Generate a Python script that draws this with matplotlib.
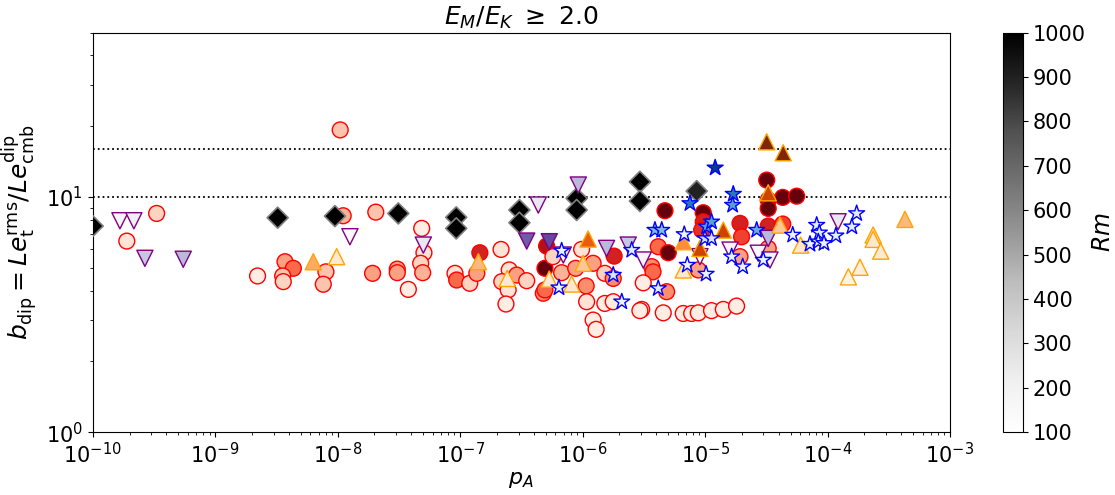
import numpy as np
import matplotlib
matplotlib.use('Agg')
import matplotlib.pyplot as plt
from matplotlib.colors import Normalize

# circles (red edge)
circ_pA = [3.33e-10, 1.90e-10, 1.11e-8, 2.05e-8, 1.05e-8, 3.72e-9, 4.35e-9, 3.56e-9, 3.60e-9, 2.22e-9,
           8.03e-9, 7.64e-9, 1.93e-8, 3.07e-8, 3.07e-8, 3.78e-8, 4.86e-8, 5.07e-8, 4.77e-8, 4.95e-8,
           1.45e-7, 9.09e-8, 9.38e-8, 1.20e-7, 1.37e-7, 2.16e-7, 2.52e-7, 2.19e-7, 2.47e-7, 2.90e-7,
           3.50e-7, 2.37e-7, 4.93e-7, 5.09e-7, 5.73e-7, 4.78e-7, 4.93e-7, 6.75e-7, 8.79e-7, 9.83e-7,
           1.22e-6, 1.07e-6, 1.08e-6, 1.52e-6, 1.22e-6, 1.29e-6, 1.52e-6, 1.81e-6, 1.78e-6, 3.67e-6,
           3.76e-6, 3.13e-6, 4.86e-6, 4.15e-6, 5.01e-6, 4.71e-6, 9.67e-6, 9.67e-6, 9.39e-6, 1.93e-5,
           1.99e-5, 1.93e-5, 8.81e-6, 3.19e-5, 3.28e-5, 3.28e-5, 4.31e-5, 5.60e-5, 3.28e-5, 4.31e-5,
           3.28e-5, 1.78e-6, 3.04e-6, 2.94e-6, 4.56e-6, 6.64e-6, 7.78e-6, 8.81e-6, 1.13e-5, 1.41e-5,
           1.81e-5]
circ_b = [8.52, 6.50, 8.33, 8.63, 19.3, 5.31, 4.98, 4.62, 4.37, 4.62,
          4.81, 4.26, 4.74, 4.94, 4.77, 4.05, 7.36, 5.80, 5.23, 4.77,
          5.80, 4.74, 4.44, 4.30, 4.74, 5.99, 4.90, 4.37, 4.03, 4.66,
          4.41, 3.51, 4.98, 6.19, 5.58, 3.90, 4.03, 4.77, 4.98, 5.99,
          5.23, 4.19, 3.59, 3.53, 3.00, 2.74, 4.74, 5.61, 4.51, 5.06,
          4.81, 4.32, 3.96, 6.15, 5.80, 8.75, 8.58, 7.85, 7.24, 7.73,
          6.78, 5.58, 4.90, 11.81, 9.71, 8.95, 9.97, 10.09, 7.53, 7.68,
          6.05, 3.59, 3.33, 3.29, 3.22, 3.20, 3.20, 3.22, 3.29, 3.33,
          3.44]
circ_Rm = [250, 200, 350, 300, 300, 400, 550, 300, 250, 150,
           300, 300, 400, 400, 400, 150, 150, 200, 250, 350,
           750, 200, 550, 250, 400, 200, 200, 250, 200, 400,
           250, 150, 1000, 850, 250, 450, 550, 350, 400, 200,
           400, 450, 200, 150, 150, 150, 250, 750, 450, 450,
           550, 150, 450, 550, 1000, 1000, 1000, 750, 700, 750,
           650, 400, 400, 1000, 1000, 1000, 1000, 1000, 750, 650,
           400, 150, 150, 150, 150, 150, 150, 150, 150, 150,
           150]

# diamonds
diam_pA = [1.0e-10, 3.24e-9, 9.51e-9, 3.13e-8, 9.3e-8, 9.3e-8, 3.05e-7, 3.05e-7,
           8.95e-7, 8.95e-7, 2.94e-6, 2.94e-6, 8.55e-6]
diam_b = [7.53, 8.17, 8.30, 8.52, 8.20, 7.36, 8.81, 7.78, 9.87, 8.81, 11.61, 9.62, 10.6]
diam_Rm = [1000, 1000, 1000, 1000, 1000, 1000, 1000, 1000, 1000, 1000, 1000, 1000, 900]

# downward triangles
tdn_pA = [1.67e-10, 2.17e-10, 2.67e-10, 5.49e-10, 1.26e-8, 5.01e-8, 4.35e-7, 3.50e-7, 5.35e-7, 9.23e-7,
          1.57e-6, 6.96e-7, 2.36e-6, 3.13e-6, 9.09e-6, 1.60e-5, 2.72e-5, 3.39e-5, 3.28e-5, 1.22e-4]
tdn_b = [7.93, 7.93, 5.49, 5.44, 6.78, 6.25, 9.25, 6.50, 6.46, 11.25,
         6.05, 5.67, 6.25, 5.40, 5.58, 5.95, 5.77, 5.40, 6.67, 7.85]
tdn_Rm = [150, 200, 400, 450, 120, 250, 250, 750, 800, 450,
          450, 150, 400, 150, 100, 150, 150, 150, 450, 250]

# upward triangles
tup_pA = [6.33e-9, 9.82e-9, 1.41e-7, 2.43e-7, 5.35e-7, 8.15e-7, 1.01e-6, 1.11e-6, 6.64e-6, 6.64e-6,
          9.09e-6, 1.41e-5, 4.09e-5, 3.19e-5, 4.35e-5, 3.28e-5, 6.04e-5, 2.36e-4, 2.36e-4, 2.72e-4,
          4.29e-4, 1.84e-4, 1.48e-4]
tup_b = [5.31, 5.58, 5.31, 4.51, 4.48, 4.27, 5.23, 6.63, 4.90, 6.46,
         6.05, 7.24, 7.60, 17.18, 15.43, 10.43, 6.25, 6.90, 6.61, 5.89,
         8.04, 5.03, 4.58]
tup_Rm = [450, 200, 400, 200, 200, 200, 350, 700, 200, 550,
          800, 800, 350, 1000, 1000, 800, 200, 250, 200, 200,
          400, 150, 120]

# stars
star_pA = [6.75e-7, 6.42e-7, 1.78e-6, 2.09e-6, 2.52e-6, 4.15e-6, 3.90e-6, 4.43e-6, 6.77e-6, 7.16e-6,
           1.02e-5, 7.53e-6, 1.21e-5, 1.03e-5, 1.13e-5, 9.99e-6, 1.13e-5, 1.70e-5, 1.68e-5, 2.64e-5,
           1.65e-5, 2.03e-5, 2.99e-5, 5.20e-5, 8.16e-5, 8.57e-5, 7.19e-5, 8.41e-5, 9.36e-5, 1.17e-4,
           1.58e-4, 1.73e-4]
star_b = [5.91, 4.12, 4.66, 3.59, 5.95, 4.09, 7.24, 7.24, 6.94, 5.14,
          4.71, 9.40, 13.32, 7.48, 7.85, 6.67, 6.67, 10.30, 9.25, 7.24,
          5.58, 5.06, 5.40, 6.90, 7.60, 7.05, 6.31, 6.46, 6.36, 6.85,
          7.48, 8.52]
star_Rm = [150, 150, 250, 150, 200, 200, 500, 500, 150, 150,
           150, 750, 950, 600, 600, 300, 250, 750, 600, 550,
           150, 150, 150, 150, 200, 200, 150, 200, 150, 200,
           200, 200]

norm = Normalize(vmin=100, vmax=1000)

fig = plt.figure(figsize=(11.15, 4.95), dpi=100)
ax = fig.add_axes([0.0831, 0.1267, 0.7689, 0.8073])
cax = fig.add_axes([0.8996, 0.1267, 0.0179, 0.8073])

ax.axhline(10, color='k', ls=':', lw=1.3, zorder=1)
ax.axhline(16, color='k', ls=':', lw=1.3, zorder=1)

ax.scatter(circ_pA, circ_b, c=circ_Rm, cmap='Reds', norm=norm, marker='o', s=130,
           edgecolors='red', linewidths=1, zorder=2)
ax.scatter(diam_pA, diam_b, c=diam_Rm, cmap='Greys', norm=norm, marker='D', s=115,
           edgecolors='gray', linewidths=1.2, zorder=3)
ax.scatter(tdn_pA, tdn_b, c=tdn_Rm, cmap='Purples', norm=norm, marker='v', s=135,
           edgecolors='purple', linewidths=1, zorder=3)
ax.scatter(tup_pA, tup_b, c=tup_Rm, cmap='Oranges', norm=norm, marker='^', s=135,
           edgecolors='orange', linewidths=1, zorder=3)
ax.scatter(star_pA, star_b, c=star_Rm, cmap='Blues', norm=norm, marker='*', s=145,
           edgecolors='blue', linewidths=1, zorder=4)

ax.set_xscale('log')
ax.set_yscale('log')
ax.set_xlim(1e-10, 1e-3)
ax.set_ylim(1, 50)
ax.tick_params(labelsize=15)
ax.set_xlabel(r'$p_A$', fontsize=16, labelpad=2)
ax.set_ylabel(r'$b_{\rm dip} = Le_{\rm t}^{\rm rms}/Le_{\rm cmb}^{\rm dip}$', fontsize=18)
ax.set_title(r'$E_M/E_K$ $\geq$ 2.0', fontsize=18)

sm = plt.cm.ScalarMappable(norm=norm, cmap='Greys')
cb = fig.colorbar(sm, cax=cax, ticks=np.arange(100, 1001, 100))
cb.ax.tick_params(labelsize=15)
cb.set_label(r'$Rm$', fontsize=17)

plt.savefig('out.png')
